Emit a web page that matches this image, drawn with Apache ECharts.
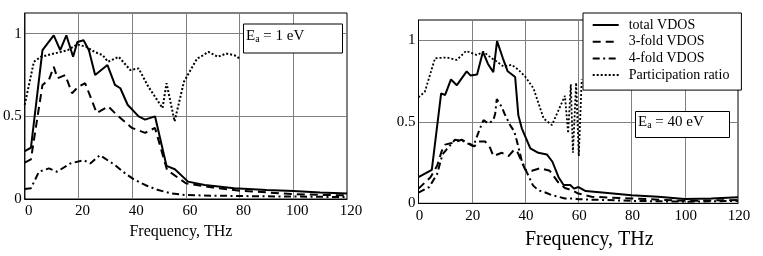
<!DOCTYPE html>
<html>
<head>
<meta charset="utf-8">
<script src="https://cdn.jsdelivr.net/npm/echarts@6/dist/echarts.min.js"></script>
<style>html,body{margin:0;padding:0;background:#fff;}#c{width:763px;height:256px;}</style>
</head>
<body>
<div id="c"></div>
<script>
// ---- Left panel (Ea = 1 eV) ----
const L_total_f = [0, 2.3, 6.6, 10.8, 13.2, 15.5, 18, 19.6, 21.9, 23.9, 26.2, 30.8, 33.6, 35.6, 38.3, 42.4, 44.8, 48.5, 52.8, 55.9, 60.8, 67, 78, 90, 100, 110, 120];
const L_total_v = [0.29, 0.31, 0.90, 0.99, 0.90, 0.99, 0.86, 0.95, 0.96, 0.90, 0.75, 0.81, 0.69, 0.67, 0.57, 0.50, 0.48, 0.50, 0.20, 0.18, 0.105, 0.085, 0.065, 0.055, 0.048, 0.04, 0.034];
const L_3f_f = [0, 2.3, 6.6, 9, 10.8, 12.2, 15.1, 17.6, 20, 22.5, 26.8, 31.1, 34.2, 39.9, 44.8, 48.5, 53, 60, 70, 80, 90, 100, 110, 120];
const L_3f_v = [0.22, 0.24, 0.69, 0.72, 0.80, 0.73, 0.75, 0.64, 0.68, 0.70, 0.52, 0.56, 0.51, 0.43, 0.40, 0.43, 0.175, 0.095, 0.07, 0.05, 0.04, 0.03, 0.025, 0.022];
const L_4f_f = [0, 2.3, 5.3, 9, 12, 17, 21.9, 24.4, 28, 33.6, 37.4, 40.5, 44.8, 49.7, 54.7, 59.6, 70, 80, 90, 100, 110, 120];
const L_4f_v = [0.06, 0.065, 0.165, 0.185, 0.165, 0.215, 0.235, 0.215, 0.265, 0.205, 0.155, 0.12, 0.085, 0.054, 0.034, 0.024, 0.02, 0.018, 0.016, 0.015, 0.013, 0.012];
const L_pr_f = [0, 3.4, 6, 11, 16, 19.5, 23, 26, 29, 31, 35, 39.3, 42.4, 46, 51.3, 52.8, 55.8, 59.3, 64.2, 65.5, 68.4, 71.9, 75, 78, 80];
const L_pr_v = [0.57, 0.83, 0.86, 0.88, 0.90, 0.935, 0.92, 0.89, 0.87, 0.83, 0.86, 0.78, 0.79, 0.68, 0.55, 0.70, 0.47, 0.71, 0.85, 0.86, 0.89, 0.86, 0.88, 0.87, 0.85];

// ---- Right panel (Ea = 40 eV) ----
const R_total_f = [0, 5, 8.5, 10, 12.2, 14.4, 18.1, 19.5, 22, 24.2, 26.1, 28.1, 29.5, 31.7, 33.5, 36.3, 37.5, 38.8, 42, 45, 48.2, 50.3, 52.6, 54.5, 57, 58.4, 60.1, 62.8, 70, 80, 90, 100, 110, 120];
const R_total_v = [0.16, 0.205, 0.675, 0.665, 0.76, 0.725, 0.81, 0.785, 0.79, 0.93, 0.855, 0.805, 0.995, 0.89, 0.81, 0.775, 0.54, 0.46, 0.337, 0.31, 0.30, 0.255, 0.16, 0.112, 0.112, 0.09, 0.10, 0.075, 0.065, 0.05, 0.04, 0.027, 0.03, 0.037];
const R_3f_f = [0, 4.5, 7, 8.7, 10, 12.5, 16.2, 18.7, 21, 22.5, 25, 26.9, 28.1, 31.3, 33.8, 36, 37.3, 40.1, 42.6, 45.7, 49.3, 52.4, 55, 57.6, 60, 65, 80, 100, 120];
const R_3f_v = [0.09, 0.16, 0.23, 0.32, 0.36, 0.37, 0.39, 0.37, 0.35, 0.38, 0.38, 0.34, 0.29, 0.31, 0.29, 0.33, 0.31, 0.205, 0.20, 0.215, 0.20, 0.13, 0.094, 0.08, 0.06, 0.04, 0.03, 0.015, 0.02];
const R_4f_f = [0, 4, 7, 9, 10.5, 13.7, 17, 19.4, 20.6, 23.1, 24.4, 26.3, 28.1, 28.8, 29.4, 31.3, 32.3, 33.2, 34.4, 36, 37.3, 38.8, 40.7, 43, 45, 47.9, 50, 52.6, 55, 58, 60, 80, 100, 120];
const R_4f_v = [0.065, 0.10, 0.18, 0.30, 0.33, 0.39, 0.38, 0.36, 0.35, 0.46, 0.51, 0.49, 0.51, 0.55, 0.64, 0.59, 0.55, 0.52, 0.48, 0.44, 0.36, 0.26, 0.19, 0.11, 0.08, 0.065, 0.05, 0.04, 0.03, 0.03, 0.025, 0.015, 0.01, 0.015];
const R_pr_f = [0, 2.4, 6.2, 10.6, 14.4, 17.9, 21.9, 24.4, 27.5, 29.4, 31.9, 35, 37.5, 40.1, 43.2, 47, 50.1, 55, 56.2, 57.2, 58, 59.2, 60.2, 61.3];
const R_pr_v = [0.65, 0.685, 0.89, 0.895, 0.88, 0.935, 0.91, 0.93, 0.89, 0.87, 0.84, 0.85, 0.82, 0.777, 0.705, 0.52, 0.48, 0.66, 0.43, 0.73, 0.31, 0.74, 0.29, 0.76];

const xTicks = [0, 20, 40, 60, 80, 100, 120];
const yTickLabels = {0: '0', 0.5: '0.5', 1: '1'};
const seriesNames = ['total VDOS', '3-fold VDOS', '4-fold VDOS', 'Participation ratio'];

const FONT = 'Liberation Serif';
const pairs = (f, v) => f.map((x, i) => [x, v[i]]);

const styles = [
  {type: 'solid', width: 2},
  {type: [8, 5], width: 2},
  {type: [7, 3.5, 2, 3.5], width: 2},
  {type: [2, 2], width: 2}
];

function mkX(idx, padL) {
  return {
    type: 'value', gridIndex: idx, min: 0, max: 120, interval: 20,
    axisLine: {show: true, lineStyle: {color: '#000', width: 1}},
    axisTick: {show: false},
    splitLine: {show: true, showMinLine: false, showMaxLine: false, lineStyle: {color: '#808080', width: 1}},
    axisLabel: {color: '#000', fontFamily: FONT, fontSize: 15, margin: 5, padding: [0, 0, 0, padL],
      formatter: v => xTicks.includes(v) ? String(v) : ''},
    name: 'Frequency, THz', nameLocation: 'middle',
    nameGap: idx === 0 ? 19 : 26,
    nameTextStyle: idx === 0
      ? {color: '#000', fontFamily: FONT, fontSize: 16, padding: [0, 10, 0, 0]}
      : {color: '#000', fontFamily: FONT, fontSize: 20, padding: [0, 0, 0, 22]}
  };
}
function mkY(idx, padT) {
  return {
    type: 'value', gridIndex: idx, min: 0, max: 1.125, interval: 0.5,
    axisLine: {show: true, lineStyle: {color: '#000', width: 1}},
    axisTick: {show: false},
    splitLine: {show: true, showMinLine: false, showMaxLine: false, lineStyle: {color: '#808080', width: 1}},
    axisLabel: {color: '#000', fontFamily: FONT, fontSize: 15, margin: 3, padding: [padT, 0, 0, 0],
      formatter: v => (yTickLabels[v] !== undefined ? yTickLabels[v] : '')}
  };
}

const data = [
  [pairs(L_total_f, L_total_v), pairs(L_3f_f, L_3f_v), pairs(L_4f_f, L_4f_v), pairs(L_pr_f, L_pr_v)],
  [pairs(R_total_f, R_total_v), pairs(R_3f_f, R_3f_v), pairs(R_4f_f, R_4f_v), pairs(R_pr_f, R_pr_v)]
];
const series = [];
[1, 0].forEach(p => {
  seriesNames.forEach((name, i) => {
    const ls = Object.assign({color: '#000'}, styles[i]);
    if (p === 1 && i === 3) ls.width = 1.8;
    series.push({
      name, type: 'line', xAxisIndex: p, yAxisIndex: p,
      data: data[p][i], showSymbol: false, symbol: 'none', smooth: false,
      lineStyle: ls, itemStyle: {color: '#000'}, animation: false, silent: true
    });
  });
});

const chart = echarts.init(document.getElementById('c'), null, {renderer: 'canvas'});
chart.setOption({
  animation: false,
  backgroundColor: '#fff',
  grid: [
    {left: 22, top: 13, width: 325, height: 186, show: true, borderColor: '#000', borderWidth: 1, backgroundColor: 'transparent'},
    {left: 418.5, top: 20, width: 319.5, height: 183.3, show: true, borderColor: '#000', borderWidth: 1, backgroundColor: 'transparent'}
  ],
  xAxis: [mkX(0, 8), mkX(1, 2)],
  yAxis: [mkY(0, 6), mkY(1, 8)],
  legend: {
    data: seriesNames, orient: 'vertical', left: 583, top: 13,
    itemWidth: 26, itemHeight: 14, itemGap: 2.7,
    padding: [5, 12, 8, 8.7],
    backgroundColor: '#fff', borderColor: '#000', borderWidth: 1,
    itemStyle: {opacity: 0},
    textStyle: {fontFamily: FONT, fontSize: 14, color: '#000', padding: [0, 0, 0, 5]},
    selectedMode: false, z: 10
  },
  graphic: [
    {type: 'rect', left: 243, top: 23.5, z: 20, shape: {width: 99, height: 29},
      style: {fill: '#fff', stroke: '#000', lineWidth: 1}},
    {type: 'text', left: 246, top: 29, z: 21,
      style: {text: '{n|E}{s|a}{n| = 1 eV}', rich: {
        n: {fontFamily: FONT, fontSize: 15, fill: '#000'},
        s: {fontFamily: FONT, fontSize: 10, fill: '#000', padding: [6, 0, 0, 0]}}}},
    {type: 'rect', left: 635, top: 111, z: 20, shape: {width: 94, height: 26},
      style: {fill: '#fff', stroke: '#000', lineWidth: 1}},
    {type: 'text', left: 638, top: 115, z: 21,
      style: {text: '{n|E}{s|a}{n| = 40 eV}', rich: {
        n: {fontFamily: FONT, fontSize: 15, fill: '#000'},
        s: {fontFamily: FONT, fontSize: 10, fill: '#000', padding: [6, 0, 0, 0]}}}}
  ],
  series
});
</script>
</body>
</html>
